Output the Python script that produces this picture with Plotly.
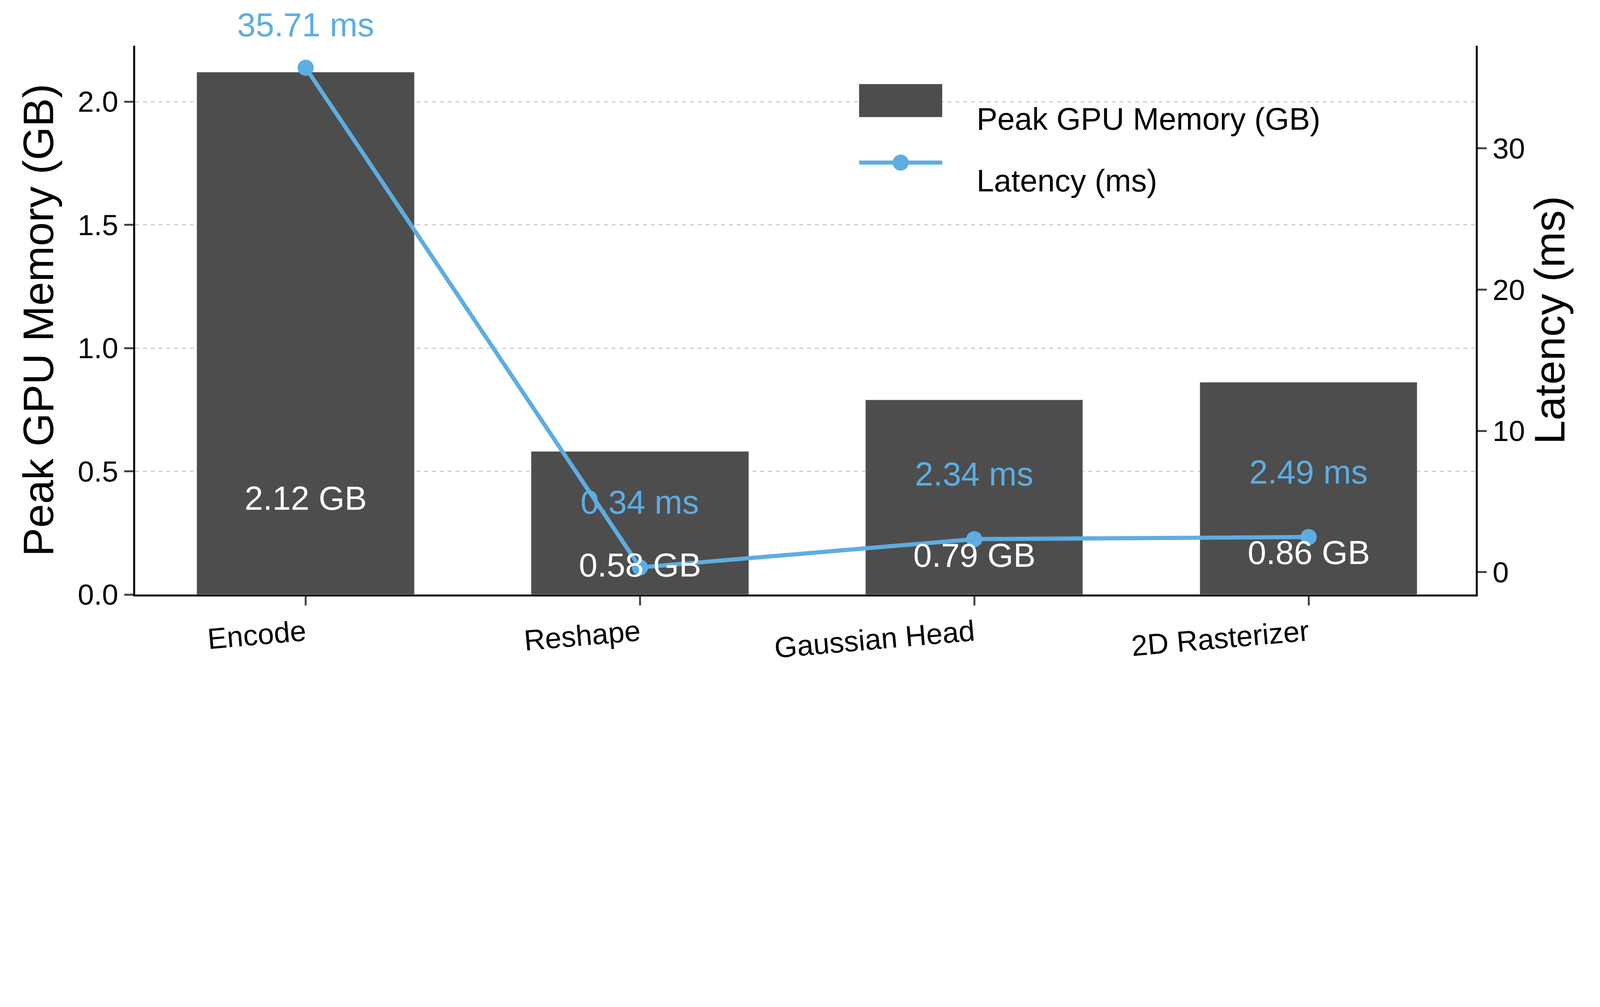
import plotly.graph_objects as go

categories = ["Encode", "Reshape", "Gaussian Head", "2D Rasterizer"]
memory_gb = [2.12, 0.58, 0.79, 0.86]
latency_ms = [35.71, 0.34, 2.34, 2.49]
mem_label_y = [0.39, 0.12, 0.16, 0.17]
lat_label_shift = [165, 250, 250, 250]

S = 1 / 1.5
BAR = "#4d4d4d"
BLUE = "#5dade2"
FONT = "Liberation Sans, Arial, sans-serif"

fig = go.Figure()
fig.add_trace(go.Bar(x=list(range(4)), y=memory_gb, width=0.65, marker_color=BAR,
                     name="Peak GPU Memory (GB)"))
fig.add_trace(go.Scatter(x=list(range(4)), y=latency_ms, yaxis="y2", mode="lines+markers",
                         line=dict(color=BLUE, width=16 * S), marker=dict(size=62 * S, color=BLUE),
                         name="Latency (ms)"))

for i, (m, ly) in enumerate(zip(memory_gb, mem_label_y)):
    fig.add_annotation(x=i, y=ly, text=f"{m:.2f} GB", showarrow=False,
                       font=dict(size=128 * S, color="white", family=FONT))
for i, (l, s) in enumerate(zip(latency_ms, lat_label_shift)):
    fig.add_annotation(x=i, y=l, yref="y2", text=f"{l:.2f} ms", showarrow=False, yshift=s * S,
                       font=dict(size=128 * S, color=BLUE, family=FONT))

# custom legend
fig.add_shape(type="rect", xref="paper", yref="paper", x0=0.540, x1=0.602, y0=0.870, y1=0.930,
              fillcolor=BAR, line=dict(width=0))
fig.add_shape(type="line", xref="paper", yref="paper", x0=0.540, x1=0.602, y0=0.787, y1=0.787,
              line=dict(color=BLUE, width=16 * S))
fig.add_shape(type="circle", xref="paper", yref="paper", xsizemode="pixel", ysizemode="pixel",
              xanchor=0.571, yanchor=0.787, x0=-31 * S, x1=31 * S, y0=-31 * S, y1=31 * S,
              fillcolor=BLUE, line=dict(width=0))
fig.add_annotation(xref="paper", yref="paper", x=0.627, y=0.900, xanchor="left", text="Peak GPU Memory (GB)",
                   showarrow=False, font=dict(size=120 * S))
fig.add_annotation(xref="paper", yref="paper", x=0.627, y=0.787, xanchor="left", text="Latency (ms)",
                   showarrow=False, font=dict(size=120 * S))

fig.update_layout(
    width=round(6117 * S), height=round(2578 * S), plot_bgcolor="white", paper_bgcolor="white",
    margin=dict(l=507 * S, r=462 * S, t=164 * S, b=308 * S),
    font=dict(family=FONT, color="black"),
    bargap=0, showlegend=False,
    xaxis=dict(range=[-0.51, 3.5], tickmode="array", tickvals=list(range(4)), ticktext=categories,
               tickangle=-5, tickfont=dict(size=112 * S), showline=True, linecolor="black", linewidth=7 * S,
               ticks="outside", ticklen=35 * S, tickwidth=7 * S, showgrid=False, zeroline=False),
    yaxis=dict(range=[0, 2.227], dtick=0.5, tickformat=".1f", tickfont=dict(size=112 * S),
               title=dict(text="Peak GPU Memory (GB)", font=dict(size=165 * S), standoff=40 * S),
               showline=True, linecolor="black", linewidth=7 * S, ticks="outside", ticklen=35 * S, tickwidth=7 * S,
               showgrid=True, gridcolor="#cccccc", griddash="dash", gridwidth=5 * S, zeroline=False),
    yaxis2=dict(range=[-1.58, 37.27], overlaying="y", side="right", dtick=10,
                tickfont=dict(size=112 * S),
                title=dict(text="Latency (ms)", font=dict(size=165 * S), standoff=40 * S),
                showline=True, linecolor="black", linewidth=7 * S, ticks="outside", ticklen=35 * S, tickwidth=7 * S,
                showgrid=False, zeroline=False),
)
fig.write_html("out.html")
